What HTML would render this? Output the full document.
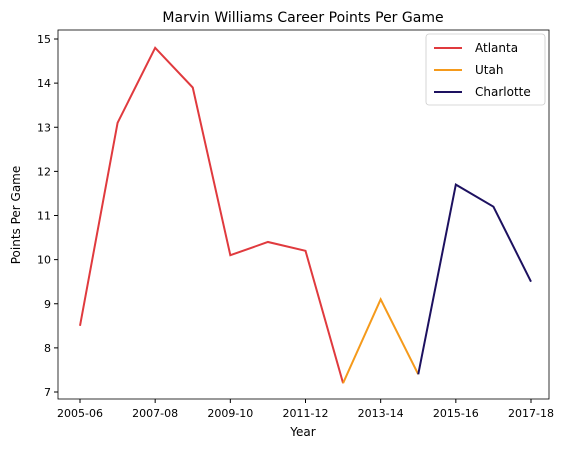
<!DOCTYPE html>
<html><head><meta charset="utf-8"><style>
body{margin:0;background:#fff;}
svg{display:block;font-family:"DejaVu Sans","Liberation Sans",sans-serif;}
</style></head><body>
<svg id="chart" width="569" height="453">
<text x="303" y="22" font-size="14" text-anchor="middle">Marvin Williams Career Points Per Game</text>
<g id="axes"></g>
<g id="lines"></g>
<rect x="58" y="30" width="491" height="369" fill="none" stroke="#000" stroke-width="0.8"/>
<text x="303" y="436" font-size="12" text-anchor="middle">Year</text>
<text x="20" y="215" font-size="12" text-anchor="middle" transform="rotate(-90 20 215)">Points Per Game</text>
<g>
<rect x="426" y="34" width="119" height="71" rx="3" fill="#fff" stroke="#ccc" stroke-width="0.8"/>
<g id="legend-items"></g>
</g>
</svg>
<script>
const seasons=["2005-06","2006-07","2007-08","2008-09","2009-10","2010-11","2011-12","2012-13","2013-14","2014-15","2015-16","2016-17","2017-18"];
const teams=["Atlanta","Utah","Charlotte"];
const colors=["#e03a3e","#f59a1b","#1d1160"];
const atlanta=[8.5,13.1,14.8,13.9,10.1,10.4,10.2,7.2];
const utah=[7.2,9.1,7.4];
const charlotte=[7.4,11.7,11.2,9.5];
const starts=[0,7,9];
const yTicks=[7,8,9,10,11,12,13,14,15];
const xTickIdx=[0,2,4,6,8,10,12];
const NS="http://www.w3.org/2000/svg";
const xS=i=>80+i*(531-80)/12;
const yS=v=>392-(v-7)*(392-39)/8;
const axes=document.getElementById('axes');
yTicks.forEach(t=>{
 const l=document.createElementNS(NS,'line');
 l.setAttribute('x1',54);l.setAttribute('x2',58);l.setAttribute('y1',yS(t));l.setAttribute('y2',yS(t));l.setAttribute('stroke','#000');
 
 
 axes.appendChild(l);
 const tx=document.createElementNS(NS,'text');
 tx.setAttribute('x',51);tx.setAttribute('y',yS(t)+4);tx.setAttribute('font-size','11');tx.setAttribute('text-anchor','end');tx.textContent=t;
 
 
 axes.appendChild(tx);
});
xTickIdx.forEach(i=>{
 const l=document.createElementNS(NS,'line');
 l.setAttribute('x1',xS(i));l.setAttribute('x2',xS(i));l.setAttribute('y1',399);l.setAttribute('y2',403);l.setAttribute('stroke','#000');
 
 
 axes.appendChild(l);
 const tx=document.createElementNS(NS,'text');
 tx.setAttribute('x',xS(i));tx.setAttribute('y',417);tx.setAttribute('font-size','11');tx.setAttribute('text-anchor','middle');tx.textContent=seasons[i];
 
 
 axes.appendChild(tx);
});
const lines=document.getElementById('lines');
[atlanta,utah,charlotte].forEach((s,k)=>{
 const p=document.createElementNS(NS,'polyline');
 p.setAttribute('points',s.map((v,j)=>xS(starts[k]+j)+','+yS(v)).join(' '));
 p.setAttribute('fill','none');p.setAttribute('stroke',colors[k]);p.setAttribute('stroke-width','2');
 
 
 lines.appendChild(p);
});
const lg=document.getElementById('legend-items');
teams.forEach((t,k)=>{
 const y=48+k*22;
 const l=document.createElementNS(NS,'line');
 l.setAttribute('x1',434);l.setAttribute('x2',462);l.setAttribute('y1',y);l.setAttribute('y2',y);l.setAttribute('stroke',colors[k]);l.setAttribute('stroke-width','2');
 
 
 lg.appendChild(l);
 const tx=document.createElementNS(NS,'text');
 tx.setAttribute('x',475);tx.setAttribute('y',y+4);tx.setAttribute('font-size','12');tx.textContent=t;
 
 
 lg.appendChild(tx);
});
</script>
</body></html>
